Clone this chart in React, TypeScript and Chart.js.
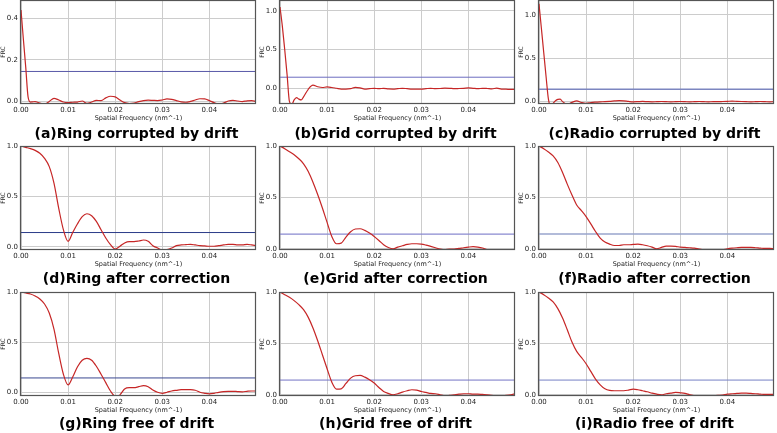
import React, { useEffect, useRef } from "react";
import { Chart, registerables } from "chart.js";
Chart.register(...registerables);

// ---------- data ----------
const FREQ_DRIFT = [
  0, 0.0005, 0.001, 0.0015, 0.002, 0.0025, 0.003, 0.0035, 0.004, 0.0045, 0.005,
  0.006, 0.007, 0.008, 0.009, 0.01, 0.011, 0.012, 0.013, 0.014, 0.015, 0.016, 0.017,
  0.018, 0.019, 0.02, 0.021, 0.022, 0.023, 0.024, 0.025, 0.026, 0.027, 0.028, 0.029,
  0.03, 0.031, 0.032, 0.033, 0.034, 0.035, 0.036, 0.037, 0.038, 0.039, 0.04, 0.041,
  0.042, 0.043, 0.044, 0.045, 0.046, 0.047, 0.048, 0.049, 0.0499,
];
const FREQ = [
  0, 0.001, 0.002, 0.003, 0.004, 0.005, 0.006, 0.007, 0.008, 0.009, 0.01, 0.011,
  0.012, 0.013, 0.014, 0.015, 0.016, 0.017, 0.018, 0.019, 0.02, 0.021, 0.022, 0.023,
  0.024, 0.025, 0.026, 0.027, 0.028, 0.029, 0.03, 0.031, 0.032, 0.033, 0.034, 0.035,
  0.036, 0.037, 0.038, 0.039, 0.04, 0.041, 0.042, 0.043, 0.044, 0.045, 0.046, 0.047,
  0.048, 0.049, 0.0499,
];

const FRC_RING_DRIFT = [
  0.44, 0.3, 0.165, 0.02, -0.005, -0.004, -0.003, -0.006, -0.01, -0.014, -0.016,
  -0.002, 0.013, 0.005, -0.005, -0.008, -0.006, -0.005, 0.0, -0.011, -0.005, 0.003, 0.002,
  0.015, 0.023, 0.02, 0.005, -0.008, -0.012, -0.01, -0.003, 0.002, 0.004, 0.003, 0.002,
  0.005, 0.01, 0.008, 0.002, -0.004, -0.006, -0.002, 0.005, 0.011, 0.01, 0.002, -0.008,
  -0.016, -0.01, 0.0, 0.003, 0.0, -0.003, 0.001, 0.002, -0.002,
];
const FRC_GRID_DRIFT = [
  1.05, 0.8, 0.5, 0.18, -0.17, -0.21, -0.15, -0.12, -0.14, -0.15, -0.11,
  -0.013, 0.04, 0.02, 0.01, 0.017, 0.01, 0.0, -0.01, -0.01, -0.005, 0.012, 0.005,
  -0.01, -0.005, 0.0, -0.005, 0.0, -0.008, -0.01, -0.005, 0.0, -0.005, -0.01, -0.012,
  -0.01, -0.005, 0.0, -0.005, -0.003, 0.002, 0.0, -0.005, -0.003, 0.0, 0.005, 0.0,
  -0.005, 0.0, -0.003, -0.008, 0.002, -0.01, -0.012, -0.015, -0.015,
];
const FRC_RADIO_DRIFT = [
  1.13, 0.85, 0.57, 0.29, 0.03, -0.05, -0.02, 0.01, 0.027, 0.03, 0.0,
  -0.03, -0.008, 0.008, -0.01, -0.02, -0.01, -0.005, -0.002, 0.0, 0.003, 0.008, 0.012,
  0.01, 0.003, -0.002, 0.0, 0.003, 0.0, -0.002, 0.0, 0.002, 0.0, -0.003, 0.0,
  0.002, 0.0, -0.002, 0.0, 0.002, 0.0, -0.002, 0.0, 0.0, 0.002, 0.004, 0.006,
  0.004, 0.002, 0.0, -0.002, 0.0, 0.002, 0.0, -0.002, 0.0,
];
const FRC_RING_CORR = [
  1.0, 0.987, 0.974, 0.957, 0.928, 0.878, 0.796, 0.632, 0.385, 0.171, 0.056, 0.145,
  0.23, 0.3, 0.329, 0.31, 0.253, 0.171, 0.089, 0.023, -0.02, 0.007, 0.04, 0.053,
  0.053, 0.059, 0.069, 0.056, 0.013, -0.01, -0.03, -0.026, -0.01, 0.013, 0.02, 0.023,
  0.026, 0.02, 0.013, 0.01, 0.007, 0.007, 0.013, 0.02, 0.026, 0.026, 0.02, 0.02,
  0.026, 0.02, 0.013,
];
const FRC_GRID_CORR = [
  1.0, 0.974, 0.945, 0.915, 0.876, 0.827, 0.752, 0.648, 0.528, 0.397, 0.257, 0.12,
  0.049, 0.055, 0.114, 0.166, 0.192, 0.195, 0.179, 0.153, 0.12, 0.081, 0.039, 0.013,
  0.0, 0.016, 0.029, 0.042, 0.049, 0.049, 0.046, 0.036, 0.023, 0.01, -0.003, -0.01,
  -0.003, -0.003, 0.003, 0.01, 0.016, 0.02, 0.016, 0.007, -0.01, -0.013, -0.01, -0.01,
  -0.013, -0.01, -0.01,
];
const FRC_RADIO_CORR = [
  1.0, 0.974, 0.942, 0.903, 0.839, 0.742, 0.629, 0.523, 0.426, 0.371, 0.313, 0.242,
  0.168, 0.103, 0.065, 0.045, 0.032, 0.032, 0.039, 0.039, 0.042, 0.045, 0.039, 0.029,
  0.016, 0.0, 0.013, 0.026, 0.026, 0.023, 0.016, 0.013, 0.01, 0.006, -0.003, -0.01,
  -0.012, -0.012, -0.012, -0.01, 0.0, 0.006, 0.01, 0.013, 0.013, 0.013, 0.01, 0.006,
  0.003, 0.003, 0.0,
];
const FRC_RING_FREE = [
  1.0, 0.99, 0.98, 0.96, 0.93, 0.88, 0.79, 0.63, 0.39, 0.18, 0.073, 0.155,
  0.255, 0.32, 0.338, 0.32, 0.26, 0.18, 0.096, 0.013, -0.04, -0.026, 0.033, 0.046,
  0.046, 0.056, 0.066, 0.056, 0.023, 0.0, -0.01, 0.0, 0.013, 0.02, 0.026, 0.026,
  0.026, 0.02, 0.0, -0.01, -0.016, -0.01, 0.0, 0.007, 0.01, 0.01, 0.007, 0.005,
  0.01, 0.013, 0.013,
];
const FRC_GRID_FREE = [
  1.0, 0.974, 0.948, 0.916, 0.877, 0.828, 0.753, 0.65, 0.526, 0.39, 0.253, 0.123,
  0.055, 0.058, 0.11, 0.162, 0.185, 0.188, 0.172, 0.146, 0.114, 0.071, 0.032, 0.013,
  0.0, 0.01, 0.026, 0.039, 0.049, 0.045, 0.032, 0.023, 0.013, 0.01, 0.0, -0.01,
  -0.006, 0.0, 0.006, 0.01, 0.01, 0.006, 0.006, 0.003, 0.0, -0.006, -0.01, -0.01,
  -0.006, 0.0, 0.01,
];
const FRC_RADIO_FREE = [
  1.0, 0.974, 0.942, 0.903, 0.838, 0.747, 0.633, 0.513, 0.422, 0.364, 0.302, 0.227,
  0.153, 0.097, 0.058, 0.042, 0.039, 0.039, 0.039, 0.045, 0.055, 0.049, 0.039, 0.029,
  0.016, 0.006, 0.0, 0.01, 0.016, 0.023, 0.019, 0.013, 0.0, -0.01, -0.013, -0.013,
  -0.013, -0.01, -0.006, -0.003, 0.006, 0.01, 0.013, 0.016, 0.016, 0.013, 0.01, 0.006,
  0.003, 0.003, 0.003,
];

const THRESHOLD_X = [0, 0.0499];
const THRESHOLD_Y = [0.143, 0.143];

const X_TICKS = [0, 0.01, 0.02, 0.03, 0.04];
const X_TICK_LABELS = ["0.00", "0.01", "0.02", "0.03", "0.04"];
const Y_TICKS_SMALL = [0, 0.2, 0.4];
const Y_TICK_LABELS_SMALL = ["0.0", "0.2", "0.4"];
const Y_TICKS_FULL = [0, 0.5, 1.0];
const Y_TICK_LABELS_FULL = ["0.0", "0.5", "1.0"];

const CAPTIONS = [
  "(a)Ring corrupted by drift",
  "(b)Grid corrupted by drift",
  "(c)Radio corrupted by drift",
  "(d)Ring after correction",
  "(e)Grid after correction",
  "(f)Radio after correction",
  "(g)Ring free of drift",
  "(h)Grid free of drift",
  "(i)Radio free of drift",
];

// ---------- layout / style ----------
const COL_LEFT = [21, 280, 539];
const ROW_TOP = [0, 146, 292];
const CAPTION_Y = [133, 278, 423];
const PLOT_W = 235;
const PLOT_H = 104;
const Y_AXIS_W = 21;
const X_AXIS_H = 24;
const RIGHT_PAD = 3;
const FONT = "'DejaVu Sans', sans-serif";

type PanelDef = {
  freq: number[];
  frc: number[];
  yMin: number;
  yMax: number;
  yTicks: number[];
  yLabels: string[];
  thrColor: string;
  thrWidth: number;
};

const PANELS: PanelDef[] = [
  { freq: FREQ_DRIFT, frc: FRC_RING_DRIFT, yMin: -0.0145, yMax: 0.489, yTicks: Y_TICKS_SMALL, yLabels: Y_TICK_LABELS_SMALL, thrColor: "#5858a8", thrWidth: 1 },
  { freq: FREQ_DRIFT, frc: FRC_GRID_DRIFT, yMin: -0.203, yMax: 1.14, yTicks: Y_TICKS_FULL, yLabels: Y_TICK_LABELS_FULL, thrColor: "#6c6cc0", thrWidth: 1 },
  { freq: FREQ_DRIFT, frc: FRC_RADIO_DRIFT, yMin: -0.027, yMax: 1.173, yTicks: Y_TICKS_FULL, yLabels: Y_TICK_LABELS_FULL, thrColor: "#7c86c0", thrWidth: 1.6 },
  { freq: FREQ, frc: FRC_RING_CORR, yMin: -0.03, yMax: 1.0, yTicks: Y_TICKS_FULL, yLabels: Y_TICK_LABELS_FULL, thrColor: "#2a3a88", thrWidth: 1 },
  { freq: FREQ, frc: FRC_GRID_CORR, yMin: -0.012, yMax: 1.0, yTicks: Y_TICKS_FULL, yLabels: Y_TICK_LABELS_FULL, thrColor: "#8a8ad0", thrWidth: 1.2 },
  { freq: FREQ, frc: FRC_RADIO_CORR, yMin: -0.012, yMax: 1.0, yTicks: Y_TICKS_FULL, yLabels: Y_TICK_LABELS_FULL, thrColor: "#98a4cc", thrWidth: 1.4 },
  { freq: FREQ, frc: FRC_RING_FREE, yMin: -0.037, yMax: 1.0, yTicks: Y_TICKS_FULL, yLabels: Y_TICK_LABELS_FULL, thrColor: "#3a4890", thrWidth: 1 },
  { freq: FREQ, frc: FRC_GRID_FREE, yMin: -0.012, yMax: 1.0, yTicks: Y_TICKS_FULL, yLabels: Y_TICK_LABELS_FULL, thrColor: "#7474c4", thrWidth: 1 },
  { freq: FREQ, frc: FRC_RADIO_FREE, yMin: -0.012, yMax: 1.0, yTicks: Y_TICKS_FULL, yLabels: Y_TICK_LABELS_FULL, thrColor: "#7680c4", thrWidth: 1 },
];

const frameBorder = {
  id: "frameBorder",
  afterDraw(chart: any) {
    const { ctx, chartArea } = chart;
    const l = Math.round(chartArea.left) - 0.5;
    const t = Math.round(chartArea.top) + 0.5;
    const r = Math.round(chartArea.right) - 0.5;
    const b = Math.round(chartArea.bottom) - 0.5;
    ctx.save();
    ctx.strokeStyle = "#555555";
    ctx.lineWidth = 1.2;
    ctx.strokeRect(l, t, r - l, b - t);
    ctx.restore();
  },
};

function Panel({ index }: { index: number }) {
  const ref = useRef<HTMLCanvasElement | null>(null);
  const p = PANELS[index];
  const col = index % 3;
  const row = Math.floor(index / 3);
  const padTop = Math.min(3, ROW_TOP[row]);
  const canvasLeft = COL_LEFT[col] - Y_AXIS_W;
  const canvasTop = ROW_TOP[row] - padTop;
  const width = Y_AXIS_W + PLOT_W + RIGHT_PAD;
  const height = padTop + PLOT_H + X_AXIS_H;

  useEffect(() => {
    if (!ref.current) return;
    const chart = new Chart(ref.current, {
      type: "line",
      data: {
        datasets: [
          {
            data: p.freq.map((x, i) => ({ x, y: p.frc[i] })),
            borderColor: "#c62626",
            borderWidth: 1.2,
            pointRadius: 0,
            cubicInterpolationMode: "monotone",
            fill: false,
          },
          {
            data: THRESHOLD_X.map((x, i) => ({ x, y: THRESHOLD_Y[i] })),
            borderColor: p.thrColor,
            borderWidth: p.thrWidth,
            pointRadius: 0,
            fill: false,
          },
        ],
      },
      options: {
        animation: false,
        responsive: false,
        events: [],
        layout: { padding: { top: padTop, right: RIGHT_PAD, left: 0, bottom: 0 } },
        plugins: { legend: { display: false }, tooltip: { enabled: false }, title: { display: false } },
        scales: {
          x: {
            type: "linear",
            min: 0,
            max: 0.0499,
            afterFit: (s: any) => {
              s.height = X_AXIS_H;
              s.paddingLeft = 0;
              s.paddingRight = 0;
              s.paddingTop = 0;
              s.paddingBottom = 0;
            },
            afterBuildTicks: (s: any) => { s.ticks = X_TICKS.map((v) => ({ value: v })); },
            ticks: {
              autoSkip: false,
              maxRotation: 0,
              padding: 2,
              color: "#222",
              font: { family: FONT, size: 7 },
              callback: (v: any) => {
                const i = X_TICKS.findIndex((t) => Math.abs(t - Number(v)) < 1e-9);
                return i >= 0 ? X_TICK_LABELS[i] : "";
              },
            },
            grid: { color: "#cccccc", lineWidth: 1, drawTicks: false },
            border: { display: false },
            title: {
              display: true,
              text: "Spatial Frequency (nm^-1)",
              color: "#222",
              font: { family: FONT, size: 6.5 },
              padding: { top: 0, bottom: 6 },
            },
          },
          y: {
            type: "linear",
            min: p.yMin,
            max: p.yMax,
            afterFit: (s: any) => {
              s.width = Y_AXIS_W;
              s.paddingTop = 0;
              s.paddingBottom = 0;
              s.paddingLeft = 0;
              s.paddingRight = 0;
            },
            afterBuildTicks: (s: any) => { s.ticks = p.yTicks.map((v) => ({ value: v })); },
            ticks: {
              autoSkip: false,
              padding: 3,
              color: "#222",
              font: { family: FONT, size: 7 },
              callback: (v: any) => {
                const i = p.yTicks.findIndex((t) => Math.abs(t - Number(v)) < 1e-9);
                return i >= 0 ? p.yLabels[i] : "";
              },
            },
            grid: { color: "#cccccc", lineWidth: 1, drawTicks: false },
            border: { display: false },
            title: {
              display: true,
              text: "FRC",
              color: "#222",
              font: { family: FONT, size: 6 },
              padding: { top: 0, bottom: 0 },
            },
          },
        },
      },
      plugins: [frameBorder],
    } as any);
    return () => chart.destroy();
  }, [index]);

  return (
    <>
      <canvas
        ref={ref}
        width={width}
        height={height}
        style={{ position: "absolute", left: canvasLeft, top: canvasTop, width, height, display: "block" }}
      />
      <div
        style={{
          position: "absolute",
          left: COL_LEFT[col] + PLOT_W / 2 - 2,
          top: CAPTION_Y[row] - 8,
          transform: "translateX(-50%)",
          whiteSpace: "nowrap",
          font: `bold 14px ${FONT}`,
          lineHeight: "16px",
          color: "#000",
        }}
      >
        {CAPTIONS[index]}
      </div>
    </>
  );
}

export default function App() {
  return (
    <div style={{ position: "fixed", left: 0, top: 0, width: 777, height: 433, background: "#fff", overflow: "hidden" }}>
      {PANELS.map((_, i) => (
        <Panel key={i} index={i} />
      ))}
    </div>
  );
}
